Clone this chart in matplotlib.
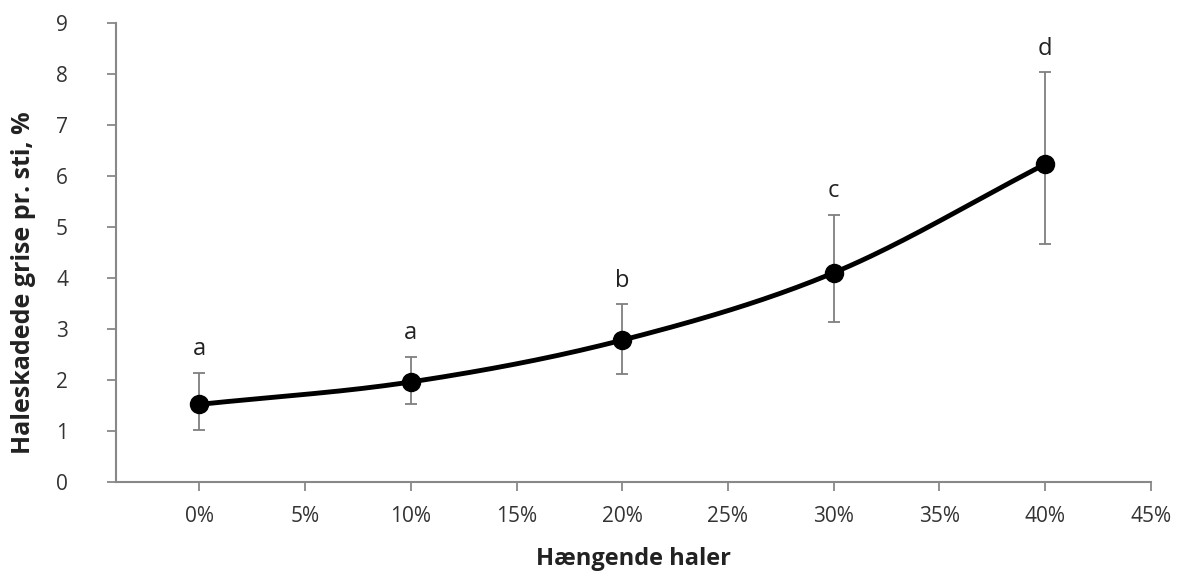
import numpy as np
import matplotlib
matplotlib.use("Agg")
import matplotlib.pyplot as plt
from matplotlib.ticker import FuncFormatter

# andel hængende haler (%) og halebid (%)
x_pct = [0, 10, 20, 30, 40]
y_mean = [1.52, 1.96, 2.78, 4.10, 6.23]
y_upper = [2.14, 2.45, 3.48, 5.24, 8.03]
y_lower = [1.01, 1.52, 2.11, 3.13, 4.66]
letters = ["a", "a", "b", "c", "d"]


def smooth(xs, ys, n=40):
    # Catmull-Rom spline through the points (Excel-like smoothed line)
    xs = np.asarray(xs, float); ys = np.asarray(ys, float)
    px = np.r_[2 * xs[0] - xs[1], xs, 2 * xs[-1] - xs[-2]]
    py = np.r_[2 * ys[0] - ys[1], ys, 2 * ys[-1] - ys[-2]]
    ox, oy = [], []
    t = np.linspace(0, 1, n)
    for i in range(1, len(px) - 2):
        for p, o in ((px, ox), (py, oy)):
            p0, p1, p2, p3 = p[i - 1], p[i], p[i + 1], p[i + 2]
            o.extend(0.5 * (2 * p1 + (-p0 + p2) * t + (2 * p0 - 5 * p1 + 4 * p2 - p3) * t ** 2
                            + (-p0 + 3 * p1 - 3 * p2 + p3) * t ** 3))
    return ox, oy


plt.rcParams["font.family"] = ["Open Sans", "DejaVu Sans"]

fig = plt.figure(figsize=(11.84, 5.71), dpi=100, facecolor="white")
ax = fig.add_axes([0.098, 0.156, 0.874, 0.804])

sx, sy = smooth(x_pct, y_mean)
ax.plot(sx, sy, color="black", lw=3.5, solid_capstyle="round", zorder=3)
yerr = [np.subtract(y_mean, y_lower), np.subtract(y_upper, y_mean)]
ax.errorbar(x_pct, y_mean, yerr=yerr, fmt="none", ecolor="#7f7f7f", elinewidth=1.3,
            capsize=4.5, capthick=1.3, zorder=2)
ax.plot(x_pct, y_mean, "o", color="black", ms=13, zorder=4)

for xi, yu, lab in zip(x_pct, y_upper, letters):
    ax.annotate(lab, (xi, yu), xytext=(0, 17), textcoords="offset points",
                ha="center", va="center", fontsize=17, color="#222222")

ax.set_xlim(-3.94, 45)
ax.set_ylim(0, 9)
ax.set_xticks(np.arange(0, 46, 5))
ax.set_yticks(range(0, 10))
ax.xaxis.set_major_formatter(FuncFormatter(lambda v, p: f"{v:.0f}%"))

for s in ("top", "right"):
    ax.spines[s].set_visible(False)
for s in ("left", "bottom"):
    ax.spines[s].set_color("#888888")
    ax.spines[s].set_linewidth(1.5)
ax.tick_params(axis="both", direction="out", length=6.5, width=1.3, color="#888888",
               labelsize=15, labelcolor="#333333")
ax.tick_params(axis="x", pad=11)
ax.tick_params(axis="y", pad=28)

ax.set_xlabel("Hængende haler", fontsize=17, fontweight="bold", color="#222222", va="center")
ax.set_ylabel("Haleskadede grise pr. sti, %", fontsize=18, fontweight="bold", color="#222222",
              va="center")
ax.xaxis.set_label_coords(0.5, -0.168)
ax.yaxis.set_label_coords(-0.089, 0.435)

fig.savefig("out.png", dpi=100)
